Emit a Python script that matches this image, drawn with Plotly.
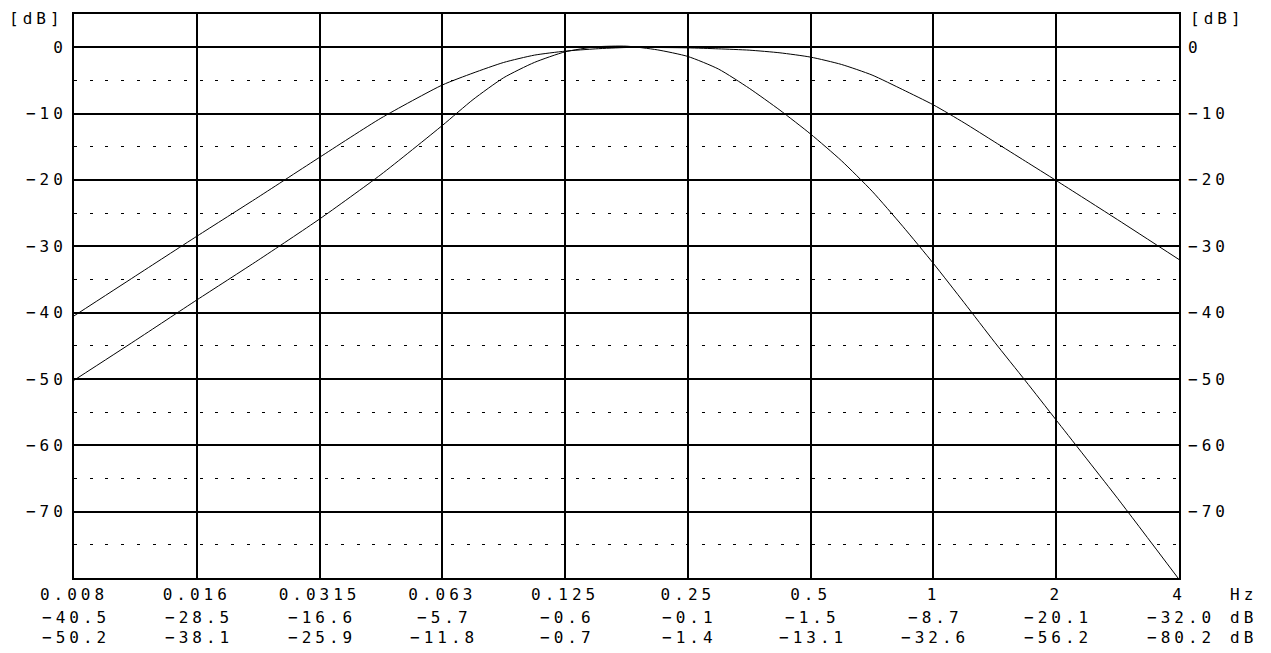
import math
import plotly.graph_objects as go

# ---- data ----
freq_hz = [0.008, 0.01131, 0.016, 0.02263, 0.032, 0.04525, 0.064, 0.0761, 0.0905, 0.1076,
           0.128, 0.1522, 0.181, 0.2153, 0.256, 0.3044, 0.362, 0.4305, 0.512, 0.6089,
           0.7241, 0.8611, 1.024, 1.2177, 1.4482, 1.7222, 2.048, 2.8963, 4.096]

wide_db = [-40.5, -34.5, -28.5, -22.6, -16.6, -10.7, -5.7, -3.9, -2.3, -1.2,
           -0.6, -0.25, -0.05, -0.05, -0.1, -0.25, -0.45, -0.85, -1.5, -2.6,
           -4.2, -6.4, -8.7, -11.4, -14.3, -17.2, -20.1, -26.0, -32.0]

narrow_db = [-50.2, -44.2, -38.1, -32.1, -25.9, -19.2, -11.8, -7.9, -4.6, -2.3,
             -0.7, 0.05, 0.15, -0.4, -1.4, -3.3, -6.2, -9.5, -13.1, -17.1,
             -21.7, -27.0, -32.6, -38.5, -44.5, -50.3, -56.2, -68.0, -80.2]

tick_freqs = [0.008, 0.016, 0.032, 0.064, 0.128, 0.256, 0.512, 1.024, 2.048, 4.096]
freq_labels = ["0.008", "0.016", "0.0315", "0.063", "0.125", "0.25", "0.5", "1", "2", "4"]
wide_at_ticks = [-40.5, -28.5, -16.6, -5.7, -0.6, -0.1, -1.5, -8.7, -20.1, -32.0]
narrow_at_ticks = [-50.2, -38.1, -25.9, -11.8, -0.7, -1.4, -13.1, -32.6, -56.2, -80.2]

db_major = [0, -10, -20, -30, -40, -50, -60, -70]
db_minor = [-5, -15, -25, -35, -45, -55, -65, -75]

FONT = "DejaVu Sans Mono"
FS = 16
LS = 4


def sp(t):
    return f'<span style="letter-spacing:{LS}px">{t}</span>'


def num(v, dec=True):
    s = f"{abs(v):.1f}" if dec else f"{abs(v):g}"
    return ("\u2212" if v < 0 else "") + s


fig = go.Figure()
fig.add_trace(go.Scatter(x=freq_hz, y=wide_db, mode="lines",
                         line=dict(color="black", width=1, shape="spline", smoothing=0.6),
                         hoverinfo="skip", showlegend=False))
fig.add_trace(go.Scatter(x=freq_hz, y=narrow_db, mode="lines", yaxis="y2",
                         line=dict(color="black", width=1, shape="spline", smoothing=0.6),
                         hoverinfo="skip", showlegend=False))

# page has an 8px body margin; plot area targeted at x 74..1179, y 12..578 on screen
OFF = 8
PX0, PX1, PY0, PY1 = 74, 1179, 12, 578
W, H = 1271 - OFF, 653 - OFF
L, T = PX0 - OFF, PY0 - OFF
R = W - (PX1 - OFF)
B = H - (PY1 - OFF)
pw, ph = PX1 - PX0, PY1 - PY0


def px(x):
    return (x - PX0) / pw


def py(y):
    return (PY1 - y) / ph


yticktext = [sp(num(v, dec=False)) for v in db_major]

fig.update_layout(
    width=W, height=H,
    margin=dict(l=L, r=R, t=T, b=B),
    paper_bgcolor="white", plot_bgcolor="white",
    font=dict(family=FONT, size=FS, color="black"),
    xaxis=dict(type="log", range=[math.log10(0.008), math.log10(4.096)],
               tickmode="array", tickvals=tick_freqs,
               ticktext=[sp(t) for t in freq_labels],
               showgrid=True, gridcolor="black", gridwidth=2,
               showline=True, linecolor="black", linewidth=2, mirror=True,
               ticks="", ticklabelstandoff=1, zeroline=False),
    yaxis=dict(range=[-80, 5], tickmode="array", tickvals=db_major, ticktext=yticktext,
               showgrid=True, gridcolor="black", gridwidth=1.5,
               minor=dict(tickvals=db_minor, showgrid=True, gridcolor="black",
                          gridwidth=1, griddash="3px,12.7px"),
               showline=True, linecolor="black", linewidth=2, mirror=True,
               ticks="", ticklabelstandoff=2, zeroline=False),
    yaxis2=dict(range=[-80, 5], overlaying="y", side="right", matches="y",
                tickmode="array", tickvals=db_major, ticktext=yticktext,
                showgrid=False, showline=False, ticks="", ticklabelstandoff=8,
                zeroline=False),
)

ann = []
row_y = [py(618), py(638)]
for f, a, b in zip(tick_freqs, wide_at_ticks, narrow_at_ticks):
    for yy, v in zip(row_y, (a, b)):
        ann.append(dict(x=math.log10(f), xref="x", y=yy, yref="paper",
                        text=sp(num(v)), showarrow=False, xanchor="center",
                        yanchor="middle", xshift=LS / 2, font=dict(family=FONT, size=FS)))

for yy, t in zip([py(594.5)] + row_y, ["Hz", "dB", "dB"]):
    ann.append(dict(x=px(1228), xref="paper", y=yy, yref="paper", text=sp(t),
                    showarrow=False, xanchor="left", yanchor="middle",
                    font=dict(family=FONT, size=FS)))

ann.append(dict(x=px(66), xref="paper", y=py(17), yref="paper", text=sp("[dB]"),
                showarrow=False, xanchor="right", yanchor="middle",
                font=dict(family=FONT, size=FS)))
ann.append(dict(x=px(1188), xref="paper", y=py(17), yref="paper", text=sp("[dB]"),
                showarrow=False, xanchor="left", yanchor="middle",
                font=dict(family=FONT, size=FS)))

fig.update_layout(annotations=ann)
fig.write_html("out.html")
